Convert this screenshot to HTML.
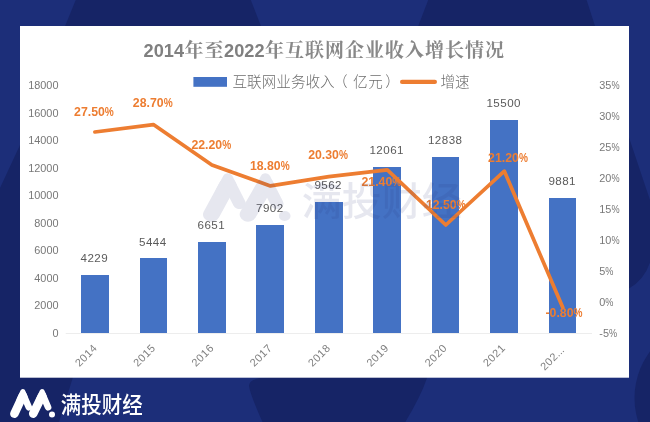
<!DOCTYPE html>
<html lang="zh-CN">
<head>
<meta charset="utf-8">
<title>2014年至2022年互联网企业收入增长情况</title>
<style>
html,body{margin:0;padding:0;background:#1c2e79;}
body{width:650px;height:422px;overflow:hidden;}
svg{display:block;}
text{font-family:"Liberation Sans","Noto Sans CJK SC",sans-serif;}
.ax{font-size:10.9px;fill:#787878;}
.xl{letter-spacing:0.5px;fill:#808080;}
.bl{font-size:11.6px;fill:#5a5a5a;text-anchor:middle;letter-spacing:0.45px;}
.rl{font-size:12.3px;fill:#ed7d31;font-weight:bold;}
.lg{font-size:14.6px;fill:#6e6e6e;font-weight:300;}
.tt{font-family:"Liberation Sans","Noto Serif CJK SC",serif;font-weight:bold;fill:#808080;font-size:20px;}
.tt .d{font-size:18.2px;fill:#808080;}
.tt .c{font-size:19px;letter-spacing:1px;font-weight:700;fill:#888888;}
</style>
</head>
<body>
<svg width="650" height="422" viewBox="0 0 650 422">

<rect x="0" y="0" width="650" height="422" fill="#1c2e79"/>
<g fill="#162466">
<polygon points="75.7,0 250.8,0 262.5,30 63.5,30"/>
<polygon points="428.2,0 586.6,0 596.3,30 416.7,30"/>
<path d="M629,137.5 L650,200 L650,262.5 Q644,280 629,288.5 L600,288 L600,137 Z"/>
<polygon points="20,145 0,188 0,422 59,422 73,377 20,370"/>
<path d="M268,372 L427.5,372 L427,378 Q421,396 405.3,422 L262.5,422 Q250,394 249,386 Q249,378 268,377.3 Z"/>
<circle cx="712" cy="398" r="77.5"/>
</g>
<rect x="20" y="26" width="609" height="351.7" fill="#ffffff"/>
<text class="tt" x="143.6" y="57.3"><tspan class="d">2014</tspan><tspan class="c" dx="0.5" dy="-0.3">年至</tspan><tspan class="d" dx="-0.5" dy="0.3">2022</tspan><tspan class="c" dx="0.5" dy="-0.3">年互联网企业收入增长情况</tspan></text>
<rect x="193.4" y="77" width="33.6" height="9.8" fill="#4472c4"/>
<text class="lg" x="232.5" y="87">互联网业务收入<tspan dx="-1.6">（</tspan><tspan dx="5.2">亿</tspan><tspan dx="0.7">元</tspan><tspan dx="2.5">）</tspan></text>
<line x1="402.1" y1="81.9" x2="434.9" y2="81.9" stroke="#ed7d31" stroke-width="4.2" stroke-linecap="round"/>
<text class="lg" x="440.4" y="87">增速</text>
<text class="ax" x="58.5" y="336.9" text-anchor="end">0</text>
<text class="ax" x="58.5" y="309.3" text-anchor="end">2000</text>
<text class="ax" x="58.5" y="281.8" text-anchor="end">4000</text>
<text class="ax" x="58.5" y="254.2" text-anchor="end">6000</text>
<text class="ax" x="58.5" y="226.7" text-anchor="end">8000</text>
<text class="ax" x="58.5" y="199.1" text-anchor="end">10000</text>
<text class="ax" x="58.5" y="171.6" text-anchor="end">12000</text>
<text class="ax" x="58.5" y="144.0" text-anchor="end">14000</text>
<text class="ax" x="58.5" y="116.5" text-anchor="end">16000</text>
<text class="ax" x="58.5" y="88.9" text-anchor="end">18000</text>
<text class="ax" x="599.3" y="336.9">-5<tspan textLength="8.14" lengthAdjust="spacingAndGlyphs">%</tspan></text>
<text class="ax" x="599.3" y="305.9">0<tspan textLength="8.14" lengthAdjust="spacingAndGlyphs">%</tspan></text>
<text class="ax" x="599.3" y="274.9">5<tspan textLength="8.14" lengthAdjust="spacingAndGlyphs">%</tspan></text>
<text class="ax" x="599.3" y="243.9">10<tspan textLength="8.14" lengthAdjust="spacingAndGlyphs">%</tspan></text>
<text class="ax" x="599.3" y="212.9">15<tspan textLength="8.14" lengthAdjust="spacingAndGlyphs">%</tspan></text>
<text class="ax" x="599.3" y="181.9">20<tspan textLength="8.14" lengthAdjust="spacingAndGlyphs">%</tspan></text>
<text class="ax" x="599.3" y="150.9">25<tspan textLength="8.14" lengthAdjust="spacingAndGlyphs">%</tspan></text>
<text class="ax" x="599.3" y="119.9">30<tspan textLength="8.14" lengthAdjust="spacingAndGlyphs">%</tspan></text>
<text class="ax" x="599.3" y="88.9">35<tspan textLength="8.14" lengthAdjust="spacingAndGlyphs">%</tspan></text>
<line x1="65.7" y1="333.5" x2="592.0" y2="333.5" stroke="#ededed" stroke-width="1"/>
<rect x="81" y="275" width="28" height="58" fill="#4472c4"/>
<rect x="140" y="258" width="27" height="75" fill="#4472c4"/>
<rect x="198" y="242" width="28" height="91" fill="#4472c4"/>
<rect x="256" y="225" width="28" height="108" fill="#4472c4"/>
<rect x="315" y="202" width="28" height="131" fill="#4472c4"/>
<rect x="373" y="167" width="28" height="166" fill="#4472c4"/>
<rect x="432" y="157" width="27" height="176" fill="#4472c4"/>
<rect x="490" y="120" width="28" height="213" fill="#4472c4"/>
<rect x="549" y="198" width="27" height="135" fill="#4472c4"/>
<text class="bl" x="94.3" y="262.3">4229</text>
<text class="bl" x="152.8" y="245.6">5444</text>
<text class="bl" x="211.3" y="229.0">6651</text>
<text class="bl" x="269.8" y="211.7">7902</text>
<text class="bl" x="328.2" y="188.9">9562</text>
<text class="bl" x="386.7" y="154.4">12061</text>
<text class="bl" x="445.2" y="143.7">12838</text>
<text class="bl" x="503.7" y="107.0">15500</text>
<text class="bl" x="562.2" y="184.5">9881</text>
<polyline points="94.9,132.0 153.4,124.6 211.9,164.9 270.4,185.9 328.8,176.6 387.3,169.8 445.8,225.0 504.3,171.1 562.8,307.5" fill="none" stroke="#ed7d31" stroke-width="3.7" stroke-linecap="round" stroke-linejoin="round"/>
<text class="rl" x="74.07" y="116.0">27.50<tspan textLength="8.97" lengthAdjust="spacingAndGlyphs">%</tspan></text>
<text class="rl" x="132.85" y="106.9">28.70<tspan textLength="8.97" lengthAdjust="spacingAndGlyphs">%</tspan></text>
<text class="rl" x="191.42" y="148.6">22.20<tspan textLength="8.97" lengthAdjust="spacingAndGlyphs">%</tspan></text>
<text class="rl" x="249.90" y="169.6">18.80<tspan textLength="8.97" lengthAdjust="spacingAndGlyphs">%</tspan></text>
<text class="rl" x="308.18" y="158.9">20.30<tspan textLength="8.97" lengthAdjust="spacingAndGlyphs">%</tspan></text>
<text class="rl" x="361.46" y="186.0">21.40<tspan textLength="8.97" lengthAdjust="spacingAndGlyphs">%</tspan></text>
<text class="rl" x="425.94" y="208.7">12.50<tspan textLength="8.97" lengthAdjust="spacingAndGlyphs">%</tspan></text>
<text class="rl" x="488.11" y="161.7">21.20<tspan textLength="8.97" lengthAdjust="spacingAndGlyphs">%</tspan></text>
<text class="rl" x="545.46" y="316.5">-0.80<tspan textLength="8.97" lengthAdjust="spacingAndGlyphs">%</tspan></text>
<text class="ax xl" text-anchor="end" transform="translate(95.1,345.9) rotate(-45)" x="0" y="4">2014</text>
<text class="ax xl" text-anchor="end" transform="translate(153.4,345.9) rotate(-45)" x="0" y="4">2015</text>
<text class="ax xl" text-anchor="end" transform="translate(211.7,345.9) rotate(-45)" x="0" y="4">2016</text>
<text class="ax xl" text-anchor="end" transform="translate(270.0,345.9) rotate(-45)" x="0" y="4">2017</text>
<text class="ax xl" text-anchor="end" transform="translate(328.3,345.9) rotate(-45)" x="0" y="4">2018</text>
<text class="ax xl" text-anchor="end" transform="translate(386.6,345.9) rotate(-45)" x="0" y="4">2019</text>
<text class="ax xl" text-anchor="end" transform="translate(444.9,345.9) rotate(-45)" x="0" y="4">2020</text>
<text class="ax xl" text-anchor="end" transform="translate(503.2,345.9) rotate(-45)" x="0" y="4">2021</text>
<text class="ax xl" text-anchor="end" transform="translate(562.0,348.1) rotate(-45)" x="0" y="4">202<tspan style="letter-spacing:-0.1px">...</tspan></text>
<g opacity="0.115">
<g transform="translate(202.8,174.2) scale(1.95,1.67)" fill="none" stroke="#2a3478" stroke-linecap="round" stroke-linejoin="round">
<path d="M4.40,24.1 L12.55,6.6" stroke-width="8.6"/>
<path d="M9.16,10 L12.85,2.05 L15.00,7.1" stroke-width="5.1"/>
<path d="M13.40,5.2 L18.80,17.6" stroke-width="6.6"/>
<path d="M23.22,24.1 L31.85,6.6" stroke-width="8.6"/>
<path d="M28.46,10 L32.15,2.05 L34.30,7.1" stroke-width="5.1"/>
<path d="M32.70,5.2 L38.10,17.6" stroke-width="6.6"/>
<circle cx="42" cy="25" r="3" fill="#2a3478" stroke="none"/>
</g>
<text transform="translate(301.86,214.78) scale(1.0273,1)" x="0" y="0" font-size="38.90" font-weight="500" fill="#2a3478">满投财经</text>
</g>
<g>
<g transform="translate(10,389.6) scale(1,1)" fill="none" stroke="#ffffff" stroke-linecap="round" stroke-linejoin="round">
<path d="M4.40,24.1 L12.55,6.6" stroke-width="8.6"/>
<path d="M9.16,10 L12.85,2.05 L15.00,7.1" stroke-width="5.1"/>
<path d="M13.40,5.2 L18.80,17.6" stroke-width="6.6"/>
<path d="M23.22,24.1 L31.85,6.6" stroke-width="8.6"/>
<path d="M28.46,10 L32.15,2.05 L34.30,7.1" stroke-width="5.1"/>
<path d="M32.70,5.2 L38.10,17.6" stroke-width="6.6"/>
<circle cx="42" cy="25" r="3" fill="#ffffff" stroke="none"/>
</g>
<text transform="translate(60.80,413.30) scale(0.9150,1)" x="0" y="0" font-size="22.40" font-weight="500" fill="#ffffff">满投财经</text>
</g>
</svg>
</body>
</html>
